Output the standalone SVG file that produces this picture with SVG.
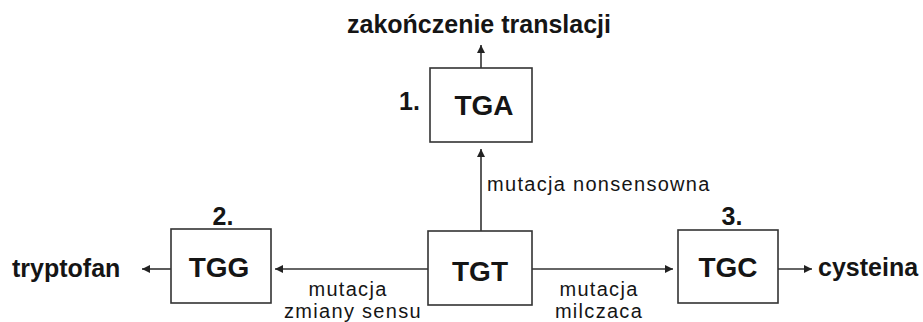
<svg xmlns="http://www.w3.org/2000/svg" width="923" height="322" viewBox="0 0 923 322">
<style>
.box{fill:#fff;stroke:#333;stroke-width:1.6}
.node{font-family:"Liberation Sans",Arial,sans-serif;font-weight:bold;font-size:28px;fill:#151515;text-anchor:middle}
.big{font-family:"Liberation Sans",Arial,sans-serif;font-weight:bold;font-size:25px;fill:#151515}
.lab{font-family:"Liberation Sans",Arial,sans-serif;font-size:20px;letter-spacing:1.3px;fill:#151515}
.edge{stroke:#333;stroke-width:1.6;fill:none;marker-end:url(#ah)}
</style>
<defs>
<marker id="ah" viewBox="0 0 10 10" refX="10" refY="5" markerWidth="9" markerHeight="8" markerUnits="userSpaceOnUse" orient="auto">
<path d="M0,0 L10,5 L0,10 z" fill="#222"/>
</marker>
</defs>
<rect width="923" height="322" fill="#fff"/>
<g id="connectors">
<path class="edge" d="M481,231 V149"/>
<path class="edge" d="M481,68 V45"/>
<path class="edge" d="M428,269 H275"/>
<path class="edge" d="M171,269 H142"/>
<path class="edge" d="M532,269 H673"/>
<path class="edge" d="M778,269 H812"/>
<text class="lab" x="487" y="191">mutacja nonsensowna</text>
<text class="lab" x="348" y="296" text-anchor="middle">mutacja</text>
<text class="lab" x="353" y="318" text-anchor="middle">zmiany sensu</text>
<text class="lab" x="599" y="296" text-anchor="middle">mutacja</text>
<text class="lab" x="599" y="318" text-anchor="middle">milczaca</text>
</g>
<g id="n-TGA">
<rect class="box" x="430" y="68" width="102" height="74"/>
<text class="node" x="484" y="115">TGA</text>
<text class="big" x="399" y="110" font-size="26">1.</text>
</g>
<g id="n-stop">
<text class="big" x="347" y="33" font-size="25.5">zakończenie translacji</text>
</g>
<g id="n-TGT">
<rect class="box" x="428" y="231" width="104" height="74"/>
<text class="node" x="480" y="281">TGT</text>
</g>
<g id="n-TGG">
<rect class="box" x="171" y="229" width="100" height="74"/>
<text class="node" x="219" y="277">TGG</text>
<text class="big" x="223" y="225" text-anchor="middle" font-size="26">2.</text>
</g>
<g id="n-tryptofan">
<text class="big" x="12" y="277" font-size="27">tryptofan</text>
</g>
<g id="n-TGC">
<rect class="box" x="678" y="230" width="100" height="73"/>
<text class="node" x="728" y="277">TGC</text>
<text class="big" x="732" y="225" text-anchor="middle" font-size="26">3.</text>
</g>
<g id="n-cysteina">
<text class="big" x="818" y="276">cysteina</text>
</g>
</svg>
